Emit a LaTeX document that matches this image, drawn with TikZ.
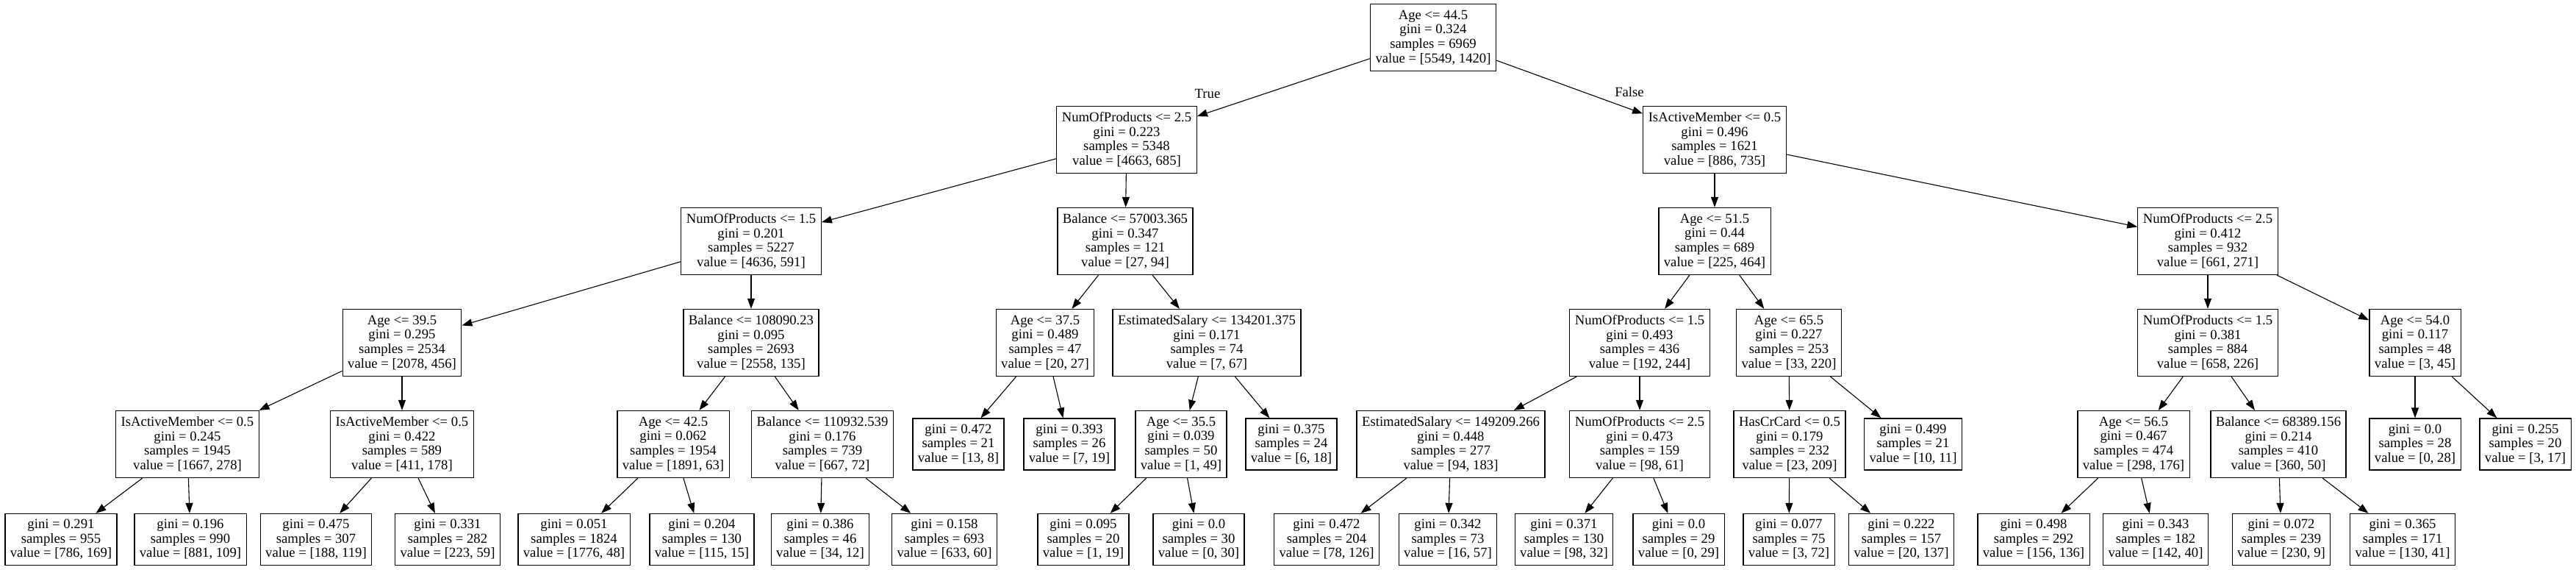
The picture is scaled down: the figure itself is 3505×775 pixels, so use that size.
\documentclass[tikz,border=0pt]{standalone}
\usepackage{fontspec}
\setmainfont{Liberation Serif}
\usetikzlibrary{arrows.meta}

\begin{document}
\begin{tikzpicture}[x=1pt, y=-1pt, >={Triangle[length=14pt, width=10pt]},
  font=\fontsize{18.7}{19.6}\selectfont,
  splitbox/.style={draw, line width=1.3pt, align=center, minimum height=91pt,
    inner xsep=7pt, inner ysep=0pt},
  leafbox/.style={splitbox, minimum height=70pt},
  edge/.style={->, line width=1.1pt}]

\useasboundingbox (0, 0) rectangle (3505, 775);

% --- Root ---
\node[splitbox] (root) at (1950, 51)
  {Age <= 44.5\\gini = 0.324\\samples = 6969\\value = [5549, 1420]};

% --- Depth 1 ---
\node[splitbox] (n1) at (1533, 190)
  {NumOfProducts <= 2.5\\gini = 0.223\\samples = 5348\\value = [4663, 685]};
\node[splitbox] (n2) at (2333, 190)
  {IsActiveMember <= 0.5\\gini = 0.496\\samples = 1621\\value = [886, 735]};

% --- Depth 2 ---
\node[splitbox] (n3) at (1022, 328)
  {NumOfProducts <= 1.5\\gini = 0.201\\samples = 5227\\value = [4636, 591]};
\node[splitbox] (n4) at (1531, 328)
  {Balance <= 57003.365\\gini = 0.347\\samples = 121\\value = [27, 94]};
\node[splitbox] (n5) at (2333, 328)
  {Age <= 51.5\\gini = 0.44\\samples = 689\\value = [225, 464]};
\node[splitbox] (n6) at (3004, 328)
  {NumOfProducts <= 2.5\\gini = 0.412\\samples = 932\\value = [661, 271]};

% --- Depth 3 ---
\node[splitbox] (n7) at (547, 466)
  {Age <= 39.5\\gini = 0.295\\samples = 2534\\value = [2078, 456]};
\node[splitbox] (n8) at (1022, 466)
  {Balance <= 108090.23\\gini = 0.095\\samples = 2693\\value = [2558, 135]};
\node[splitbox] (n9) at (1422, 466)
  {Age <= 37.5\\gini = 0.489\\samples = 47\\value = [20, 27]};
\node[splitbox] (n10) at (1642, 466)
  {EstimatedSalary <= 134201.375\\gini = 0.171\\samples = 74\\value = [7, 67]};
\node[splitbox] (n11) at (2231, 466)
  {NumOfProducts <= 1.5\\gini = 0.493\\samples = 436\\value = [192, 244]};
\node[splitbox] (n12) at (2434, 466)
  {Age <= 65.5\\gini = 0.227\\samples = 253\\value = [33, 220]};
\node[splitbox] (n13) at (3004, 466)
  {NumOfProducts <= 1.5\\gini = 0.381\\samples = 884\\value = [658, 226]};
\node[splitbox] (n14) at (3286, 466)
  {Age <= 54.0\\gini = 0.117\\samples = 48\\value = [3, 45]};

% --- Depth 4 ---
\node[splitbox] (n15) at (255, 604)
  {IsActiveMember <= 0.5\\gini = 0.245\\samples = 1945\\value = [1667, 278]};
\node[splitbox] (n16) at (547, 604)
  {IsActiveMember <= 0.5\\gini = 0.422\\samples = 589\\value = [411, 178]};
\node[splitbox] (n17) at (916, 604)
  {Age <= 42.5\\gini = 0.062\\samples = 1954\\value = [1891, 63]};
\node[splitbox] (n18) at (1119, 604)
  {Balance <= 110932.539\\gini = 0.176\\samples = 739\\value = [667, 72]};
\node[leafbox] (l19) at (1304, 604) {gini = 0.472\\samples = 21\\value = [13, 8]};
\node[leafbox] (l20) at (1455, 604) {gini = 0.393\\samples = 26\\value = [7, 19]};
\node[splitbox] (n21) at (1607, 604)
  {Age <= 35.5\\gini = 0.039\\samples = 50\\value = [1, 49]};
\node[leafbox] (l22) at (1757, 604) {gini = 0.375\\samples = 24\\value = [6, 18]};
\node[splitbox] (n23) at (1974, 604)
  {EstimatedSalary <= 149209.266\\gini = 0.448\\samples = 277\\value = [94, 183]};
\node[splitbox] (n24) at (2231, 604)
  {NumOfProducts <= 2.5\\gini = 0.473\\samples = 159\\value = [98, 61]};
\node[splitbox] (n25) at (2435, 604)
  {HasCrCard <= 0.5\\gini = 0.179\\samples = 232\\value = [23, 209]};
\node[leafbox] (l26) at (2603, 604) {gini = 0.499\\samples = 21\\value = [10, 11]};
\node[splitbox] (n27) at (2903, 604)
  {Age <= 56.5\\gini = 0.467\\samples = 474\\value = [298, 176]};
\node[splitbox] (n28) at (3100, 604)
  {Balance <= 68389.156\\gini = 0.214\\samples = 410\\value = [360, 50]};
\node[leafbox] (l29) at (3286, 604) {gini = 0.0\\samples = 28\\value = [0, 28]};
\node[leafbox] (l30) at (3436, 604) {gini = 0.255\\samples = 20\\value = [3, 17]};

% --- Depth 5 (leaves) ---
\foreach \name/\x/\g/\s/\v in {
    l31/83/0.291/955/{[786, 169]}, l32/259/0.196/990/{[881, 109]},
    l33/430/0.475/307/{[188, 119]}, l34/609/0.331/282/{[223, 59]},
    l35/781/0.051/1824/{[1776, 48]}, l36/955/0.204/130/{[115, 15]},
    l37/1116/0.386/46/{[34, 12]}, l38/1285/0.158/693/{[633, 60]},
    l39/1474/0.095/20/{[1, 19]}, l40/1631/0.0/30/{[0, 30]},
    l41/1805/0.472/204/{[78, 126]}, l42/1970/0.342/73/{[16, 57]},
    l43/2128/0.371/130/{[98, 32]}, l44/2284/0.0/29/{[0, 29]},
    l45/2434/0.077/75/{[3, 72]}, l46/2587/0.222/157/{[20, 137]},
    l47/2767/0.498/292/{[156, 136]}, l48/2933/0.343/182/{[142, 40]},
    l49/3104/0.072/239/{[230, 9]}, l50/3269/0.365/171/{[130, 41]}} {
  \node[leafbox] (\name) at (\x, 733.5) {gini = \g\\samples = \s\\value = \v};
}

% --- Edges ---
\foreach \a/\b in {root/n1, root/n2, n1/n3, n1/n4, n2/n5, n2/n6,
    n3/n7, n3/n8, n4/n9, n4/n10, n5/n11, n5/n12, n6/n13, n6/n14,
    n7/n15, n7/n16, n8/n17, n8/n18, n9/l19, n9/l20, n10/n21, n10/l22,
    n11/n23, n11/n24, n12/n25, n12/l26, n13/n27, n13/n28, n14/l29, n14/l30,
    n15/l31, n15/l32, n16/l33, n16/l34, n17/l35, n17/l36, n18/l37, n18/l38,
    n21/l39, n21/l40, n23/l41, n23/l42, n24/l43, n24/l44, n25/l45, n25/l46,
    n27/l47, n27/l48, n28/l49, n28/l50}
  \draw[edge] (\a) -- (\b);

% --- Branch labels ---
\node (lbltrue) at (1643, 127) {True};
\node (lblfalse) at (2217, 125) {False};

\end{tikzpicture}
\end{document}
